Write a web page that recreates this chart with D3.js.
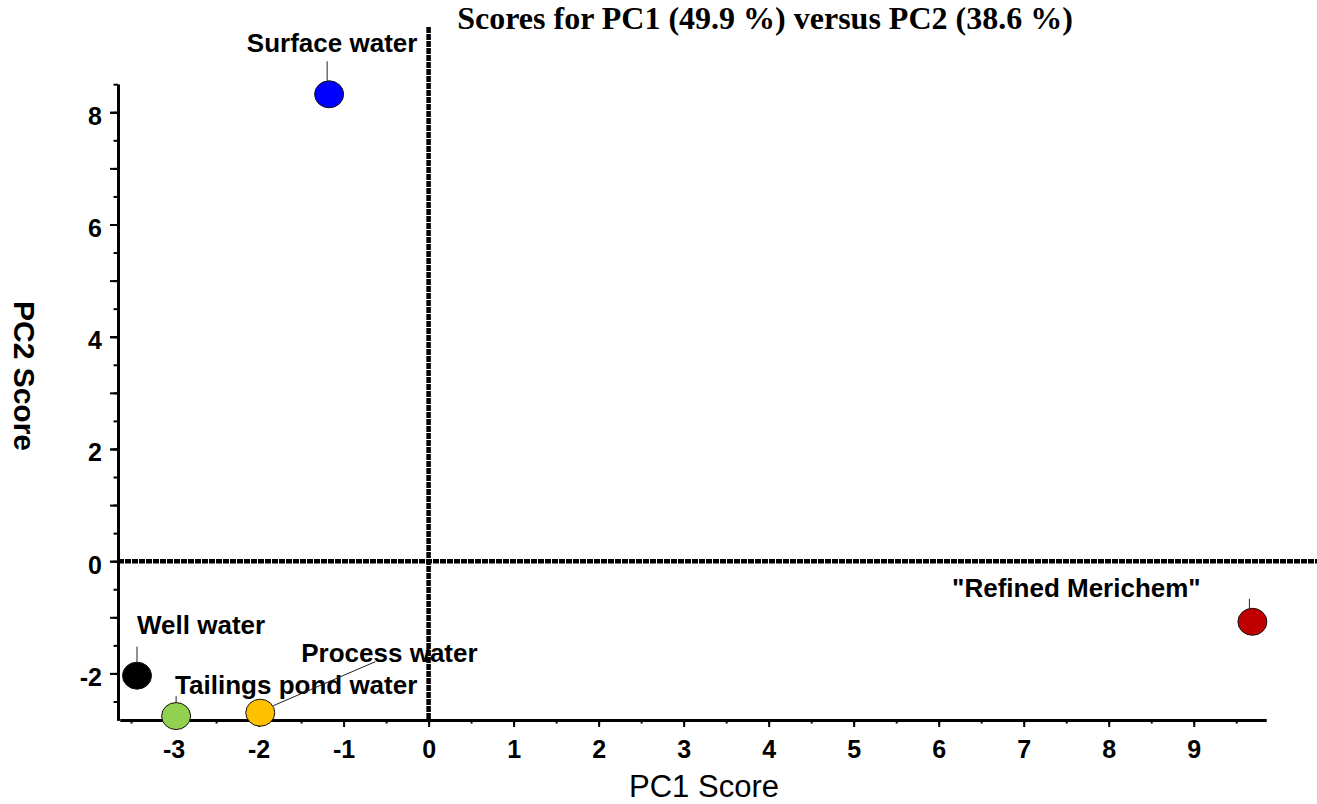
<!DOCTYPE html>
<html>
<head>
<meta charset="utf-8">
<script src="https://cdn.jsdelivr.net/npm/d3@7"></script>
<style>
    body { margin: 0; background: #fff; }
    svg { display: block; }
</style>
</head>
<body>
<svg id="scoreChart"></svg>
<script>
// sample scores
const sampleNames = ['Surface water', 'Well water', 'Tailings pond water', 'Process water', '"Refined Merichem"']
const pc1Scores = [-1.17, -3.43, -2.97, -1.98, 9.69]
const pc2Scores = [8.32, -2.04, -2.76, -2.70, -1.08]
const xTickLabels = [-3, -2, -1, 0, 1, 2, 3, 4, 5, 6, 7, 8, 9]
const yTickLabels = [-2, 0, 2, 4, 6, 8]

// styling / label placement (pixel offsets from each point)
const pointColors = ['#0000ff', '#000000', '#92d050', '#ffc000', '#c00000']
const labelLayout = [
    { dx: 3, dy: -42, anchor: 'middle', line: [-2, -33, -2, -13.5] },
    { dx: 0, dy: -42, anchor: 'start', line: [0, -29, 0, -13.5] },
    { dx: -1, dy: -22, anchor: 'start', line: [0, -20, 0, -13.5] },
    { dx: 41, dy: -51, anchor: 'start', line: [13, -7, 115, -51] },
    { dx: -176, dy: -25, anchor: 'middle', line: [-3, -23, -3, -13.5] }
]

const chart = {
    width: 1317,
    height: 804
}
const font = '"Liberation Sans", Arial, Helvetica, sans-serif'

class ScoreChart {
    constructor() {
        this.svg = d3.select('#scoreChart')
            .attr('width', chart.width)
            .attr('height', chart.height)

        this.scaleX = d3.scaleLinear()
            .domain([-3.63, 9.85])
            .range([120, 1266])

        this.scaleY = d3.scaleLinear()
            .domain([-2.83, 8.5])
            .range([720, 84.2])

        this.drawAxis()
        this.drawZeroLines()
        this.drawPoints()
        this.drawTitles()
    }

    drawAxis() {
        const x = this.scaleX
        const y = this.scaleY
        const halfX = d3.range(-3.5, 10, 0.5)
        const halfY = d3.range(-2.5, 8.6, 0.5)
        const plain = (d) => String(d)

        // minor ticks
        this.svg.append('g')
            .attr('transform', 'translate(0,720)')
            .call(d3.axisBottom(x).tickValues(halfX).tickSize(3.5).tickFormat('').tickSizeOuter(0))
        this.svg.append('g')
            .attr('transform', 'translate(118,0)')
            .call(d3.axisLeft(y).tickValues(halfY).tickSize(4.5).tickFormat('').tickSizeOuter(0))

        // integer ticks on y
        this.svg.append('g')
            .attr('transform', 'translate(118,0)')
            .call(d3.axisLeft(y).tickValues(d3.range(-2, 9, 1)).tickSize(8).tickFormat('').tickSizeOuter(0))

        const xAxis = this.svg.append('g')
            .attr('class', 'xAxis')
            .attr('transform', 'translate(0,720)')
            .call(d3.axisBottom(x).tickValues(xTickLabels).tickFormat(plain).tickSize(7).tickPadding(13).tickSizeOuter(0))

        const yAxis = this.svg.append('g')
            .attr('class', 'yAxis')
            .attr('transform', 'translate(118,0)')
            .call(d3.axisLeft(y).tickValues(yTickLabels).tickFormat(plain).tickSize(8).tickPadding(8).tickSizeOuter(0))

        this.svg.selectAll('.domain')
            .attr('stroke', '#000')
            .attr('stroke-width', 3)
        this.svg.selectAll('.tick line')
            .attr('stroke', '#000')
            .attr('stroke-width', 2)

        xAxis.selectAll('text')
            .attr('font-family', font)
            .attr('font-weight', 'bold')
            .attr('font-size', 25)
            .attr('fill', '#000')

        yAxis.selectAll('text')
            .attr('font-family', font)
            .attr('font-weight', 'bold')
            .attr('font-size', 25)
            .attr('fill', '#000')
            .attr('dy', '0.32em')
            .attr('transform', 'translate(0,4)')
    }

    drawZeroLines() {
        this.svg.append('line')
            .attr('x1', 118)
            .attr('x2', chart.width)
            .attr('y1', this.scaleY(0))
            .attr('y2', this.scaleY(0))
            .attr('stroke', '#000')
            .attr('stroke-width', 4.5)
            .attr('stroke-dasharray', '6,1')

        this.svg.append('line')
            .attr('x1', this.scaleX(0))
            .attr('x2', this.scaleX(0))
            .attr('y1', this.scaleY(9.52))
            .attr('y2', this.scaleY(-2.83))
            .attr('stroke', '#000')
            .attr('stroke-width', 4.5)
            .attr('stroke-dasharray', '6,1')
    }

    drawPoints() {
        const data = sampleNames.map((name, i) => ({
            name: name,
            x: pc1Scores[i],
            y: pc2Scores[i],
            color: pointColors[i],
            layout: labelLayout[i]
        }))

        const groups = this.svg.selectAll('.sample')
            .data(data)
            .enter()
            .append('g')
            .attr('class', 'sample')
            .attr('transform', (d) => 'translate(' + this.scaleX(d.x) + ',' + this.scaleY(d.y) + ')')

        groups.append('line')
            .attr('x1', (d) => d.layout.line[0])
            .attr('y1', (d) => d.layout.line[1])
            .attr('x2', (d) => d.layout.line[2])
            .attr('y2', (d) => d.layout.line[3])
            .attr('stroke', '#222')
            .attr('stroke-width', 1)

        groups.append('ellipse')
            .attr('rx', 14.5)
            .attr('ry', 13.5)
            .attr('fill', (d) => d.color)
            .attr('stroke', '#111')
            .attr('stroke-width', 1)

        groups.append('text')
            .attr('x', (d) => d.layout.dx)
            .attr('y', (d) => d.layout.dy)
            .attr('text-anchor', (d) => d.layout.anchor)
            .attr('font-family', font)
            .attr('font-weight', 'bold')
            .attr('font-size', 26)
            .text((d) => d.name)
    }

    drawTitles() {
        this.svg.append('text')
            .attr('x', 765)
            .attr('y', 29)
            .attr('text-anchor', 'middle')
            .attr('font-family', '"Liberation Serif", "Times New Roman", serif')
            .attr('font-weight', 'bold')
            .attr('font-size', 32)
            .text('Scores for PC1 (49.9 %) versus PC2 (38.6 %)')

        this.svg.append('text')
            .attr('x', 704)
            .attr('y', 797)
            .attr('text-anchor', 'middle')
            .attr('font-family', font)
            .attr('font-size', 31)
            .text('PC1 Score')

        this.svg.append('text')
            .attr('transform', 'translate(14,376) rotate(90)')
            .attr('text-anchor', 'middle')
            .attr('font-family', font)
            .attr('font-weight', 'bold')
            .attr('font-size', 30)
            .text('PC2 Score')
    }
}

new ScoreChart()
</script>
</body>
</html>
